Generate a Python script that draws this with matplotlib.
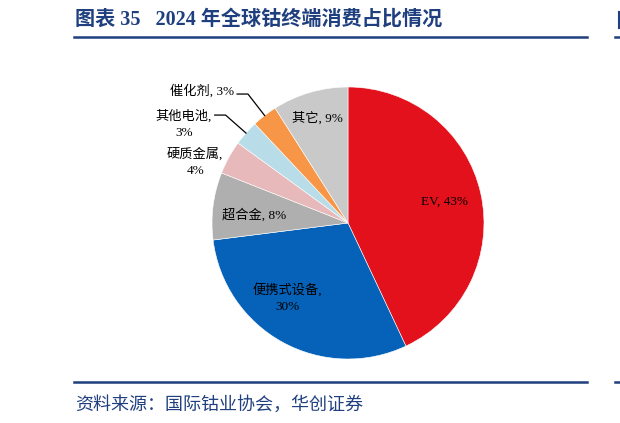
import numpy as np
import matplotlib
matplotlib.use("Agg")
import matplotlib.pyplot as plt

# data
categories = ["EV", "便携式设备", "超合金", "硬质金属", "其他电池", "催化剂", "其它"]
shares = [43, 30, 8, 4, 3, 3, 9]
colors = ["#E3111C", "#0562B8", "#AFAFAF", "#E8B9BA", "#B8DDE8", "#F79646", "#C9C9C9"]
title = "图表 35   2024 年全球钴终端消费占比情况"
source = "资料来源：国际钴业协会，华创证券"

plt.rcParams['font.family'] = ['Liberation Serif', 'Noto Sans CJK SC']

W, H = 620, 423
cx, cy, R = 348, 223, 136   # pie centre / radius in pixels

fig = plt.figure(figsize=(W / 100, H / 100), dpi=100)
ax = fig.add_axes([0, 0, 1, 1])

wedges, _ = ax.pie(shares, colors=colors, startangle=90, counterclock=False,
                   radius=1, center=(0, 0),
                   wedgeprops=dict(linewidth=0.4, edgecolor="white"))
ax.set_xlim(-cx / R, (W - cx) / R)
ax.set_ylim(-(H - cy) / R, cy / R)
ax.set_aspect("auto")
ax.axis("off")

def mid(w):
    return np.deg2rad((w.theta1 + w.theta2) / 2)

def polar(a, r):
    return r * np.cos(a), r * np.sin(a)

fs = 9.5
# labels inside / near the wedges: (angle offset deg, radius)
inside = {0: (0, 0.73), 1: (-10, 0.71), 2: (2, 0.69), 6: (0, 0.80)}
texts = {0: "EV, 43%", 1: "便携式设备,\n30%", 2: "超合金, 8%", 6: "其它, 9%"}
for i, (off, r) in inside.items():
    x, y = polar(mid(wedges[i]) + np.deg2rad(off), r)
    ax.text(x, y, texts[i], ha="center", va="center", fontsize=fs,
            color="black", linespacing=1.5)

# 硬质金属 label outside, no leader
x, y = polar(mid(wedges[3]) + np.deg2rad(7), 1.21)
ax.text(x, y, "硬质金属,\n4%", ha="center", va="center", fontsize=fs,
        linespacing=1.5)

# leader-line labels
for i, txt, dy in [(4, "其他电池,\n3%", -0.065), (5, "催化剂, 3%", 0.02)]:
    ex, ey = polar(mid(wedges[i]), 1.0)
    kx, ky = ex * 1.2, ey * 1.2
    hx = kx - 0.08
    ax.plot([ex, kx, hx], [ey, ky, ky], color="black", lw=0.9)
    if "\n" in txt:
        ax.text(hx - 0.02, ky + dy, txt, ha="right", va="center", fontsize=fs,
                multialignment="center", linespacing=1.5)
    else:
        ax.text(hx - 0.02, ky + dy, txt, ha="right", va="center", fontsize=fs)

# header / footer
navy = "#1F3F7F"
fig.text(75 / W, 1 - 20 / H, title, fontsize=14.5, fontweight="bold",
         color=navy, ha="left", va="center")
fig.add_artist(plt.Line2D([74 / W, 587 / W], [1 - 37 / H] * 2, color=navy, lw=1.8))
fig.add_artist(plt.Line2D([74 / W, 587 / W], [1 - 382 / H] * 2, color=navy, lw=1.8))
fig.add_artist(plt.Line2D([615 / W, 1.0], [1 - 37 / H] * 2, color=navy, lw=1.8))
fig.add_artist(plt.Line2D([615 / W, 1.0], [1 - 382 / H] * 2, color=navy, lw=1.8))
fig.add_artist(plt.Line2D([619 / W] * 2, [1 - 12 / H, 1 - 28 / H], color=navy, lw=1.5))
fig.text(75 / W, 1 - 405 / H, source, fontsize=13, style="italic",
         color=navy, ha="left", va="center")

fig.savefig("out.png", dpi=100)
